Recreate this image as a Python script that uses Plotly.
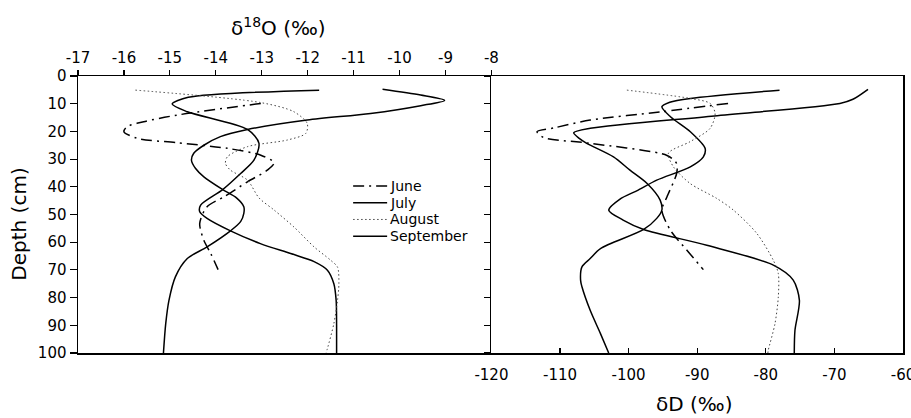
import plotly.graph_objects as go

# ---------------- data ----------------
series_names = ["June", "July", "August", "September"]

# delta 18O panel (left), depth in cm
june_o18_depth = [9.9, 14.1, 16.5, 18.3, 20.1, 22.5, 24.1, 26.1, 28.6, 31.3, 34, 38.2, 43.6, 47.2, 53.2, 59.3, 64.1, 69.9]
june_o18 = [-13.02, -14.84, -15.57, -15.93, -16.0, -15.71, -14.84, -13.75, -13.02, -12.73, -12.88, -13.31, -13.82, -14.19, -14.35, -14.26, -14.11, -13.95]

july_o18_depth = [5.1, 7.7, 10.1, 12.9, 19.3, 24.3, 30.4, 35.2, 41, 46.6, 49, 51.4, 55.9, 60.5, 64.1, 67, 70.1, 75, 81, 90, 100]
july_o18 = [-11.75, -14.6, -14.95, -14.62, -13.31, -13.06, -13.17, -13.46, -13.85, -14.33, -14.35, -14.19, -13.68, -13.03, -12.37, -11.86, -11.57, -11.43, -11.38, -11.37, -11.37]

august_o18_depth = [5.1, 9.6, 12.9, 17.1, 20.7, 23.1, 25.5, 29.2, 31.6, 34, 37.6, 44, 48.4, 54.5, 61.7, 66.5, 69, 75, 81, 89.4, 98.4, 100]
august_o18 = [-15.75, -13.02, -12.30, -12.01, -12.04, -12.44, -13.31, -13.75, -13.79, -13.68, -13.31, -13.06, -12.73, -12.30, -11.86, -11.50, -11.35, -11.32, -11.35, -11.43, -11.57, -11.6]

september_o18_depth = [4.8, 6.9, 8.8, 10.7, 13.5, 15.9, 19.3, 21.9, 25, 27.9, 30.4, 33.4, 36.4, 41, 44, 47.2, 49.6, 52.6, 55.9, 61.7, 65.9, 72.5, 81, 89.4, 100]
september_o18 = [-10.37, -9.54, -9.02, -9.54, -10.63, -12.01, -13.31, -13.9, -14.26, -14.48, -14.53, -14.44, -14.26, -13.85, -13.55, -13.39, -13.39, -13.46, -13.68, -14.19, -14.62, -14.88, -15.02, -15.09, -15.14]

# delta D panel (right)
june_dd_depth = [9.9, 13, 15.9, 18.7, 20.1, 22.2, 24.3, 28.7, 31.6, 35.2, 43.6, 48.4, 55.7, 62.9, 69.9]
june_dd = [-85.5, -95.5, -105.6, -110.8, -113.35, -112.4, -105.6, -94.4, -93.0, -93.0, -94.4, -95.15, -93.9, -91.5, -89.1]

july_dd_depth = [5.1, 8.1, 9.5, 11.1, 14.7, 20.1, 26.1, 29.2, 32.8, 37.6, 41.2, 44.5, 48.4, 52, 55.4, 61.1, 68.3, 73.7, 81, 91.8, 100]
july_dd = [-78.0, -91.0, -94.0, -95.15, -93.9, -91.0, -88.85, -89.1, -91.0, -95.9, -98.6, -101.3, -102.9, -100.8, -97.8, -88.6, -78.9, -76.0, -75.1, -75.75, -75.85]

august_dd_depth = [5.1, 8.1, 9.9, 13.5, 18.9, 23.7, 27.9, 32.8, 38.8, 44.2, 48.4, 56.8, 66.5, 71.3, 79.8, 89.4, 99, 100]
august_dd = [-100.25, -91.03, -88.12, -87.39, -88.12, -91.03, -94.19, -93.46, -91.03, -87.15, -84.73, -81.32, -78.91, -78.18, -78.18, -78.66, -79.64, -79.7]

september_dd_depth = [4.8, 8.4, 9.9, 14.4, 18.9, 20.5, 22.5, 24.3, 29.2, 34, 38.8, 44.8, 48.4, 51.4, 55.4, 62.3, 65.9, 68.9, 73.7, 76.1, 84.6, 93, 100]
september_dd = [-65.1, -67.3, -69.2, -87.5, -105.6, -108.0, -107.2, -106.1, -102.2, -99.8, -97.3, -95.4, -95.15, -95.9, -97.8, -104.1, -105.6, -106.8, -107.0, -106.8, -105.6, -104.1, -102.9]

o18_ticks = list(range(-17, -7))
dd_ticks = list(range(-120, -59, 10))
depth_ticks = list(range(0, 101, 10))

# ---------------- styles ----------------
FONT = "DejaVu Sans, Liberation Sans, Arial, sans-serif"
styles = {
    "June": dict(color="black", width=1.5, dash="11px,5px,2px,5px"),
    "July": dict(color="black", width=1.5, dash="solid"),
    "August": dict(color="#444444", width=1, dash="1.5px,2.5px"),
    "September": dict(color="black", width=1.5, dash="solid"),
}

left_data = {
    "June": (june_o18, june_o18_depth),
    "July": (july_o18, july_o18_depth),
    "August": (august_o18, august_o18_depth),
    "September": (september_o18, september_o18_depth),
}
right_data = {
    "June": (june_dd, june_dd_depth),
    "July": (july_dd, july_dd_depth),
    "August": (august_dd, august_dd_depth),
    "September": (september_dd, september_dd_depth),
}

fig = go.Figure()
for name in series_names:
    x, y = left_data[name]
    fig.add_trace(go.Scatter(x=x, y=y, xaxis="x", yaxis="y", mode="lines", name=name,
                             line=dict(shape="spline", smoothing=0.8, **styles[name]),
                             showlegend=False, hoverinfo="skip"))
for name in series_names:
    x, y = right_data[name]
    fig.add_trace(go.Scatter(x=x, y=y, xaxis="x2", yaxis="y2", mode="lines", name=name,
                             line=dict(shape="spline", smoothing=0.8, **styles[name]),
                             showlegend=False, hoverinfo="skip"))

# body margin is removed by post_script, so page pixels == figure pixels
W, H = 911, 418
plot_left, plot_right, plot_top, plot_bottom = 77.5, 902.7, 76, 352.7
ml = plot_left
mt = plot_top
mr = W - plot_right
mb = H - plot_bottom
pw = W - ml - mr
ph = H - mt - mb
split = (491 - plot_left) / pw

def px_x(px):
    return (px - plot_left) / pw

def px_y(py):
    return (plot_bottom - py) / ph

axis_common = dict(showgrid=False, zeroline=False, showline=True, linecolor="black", linewidth=1.5,
                   automargin=False, ticklabeloverflow="allow",
                   tickcolor="black", tickwidth=1.2, tickfont=dict(family=FONT, size=15, color="black"))

fig.update_layout(
    width=W, height=H,
    margin=dict(l=ml, r=mr, t=mt, b=mb, pad=0, autoexpand=False),
    paper_bgcolor="white", plot_bgcolor="white",
    showlegend=False, hovermode=False,
    xaxis=dict(domain=[0, split], range=[-17, -8], side="top", anchor="y",
               tickmode="array", tickvals=o18_ticks, ticktext=[str(t) for t in o18_ticks],
               ticks="outside", ticklen=5, mirror=True, ticklabelstandoff=1, **axis_common),
    yaxis=dict(domain=[0, 1], range=[100, 0], anchor="x",
               tickmode="array", tickvals=depth_ticks, ticktext=[str(t) for t in depth_ticks],
               ticks="outside", ticklen=7, **axis_common),
    xaxis2=dict(domain=[split, 1], range=[-120, -60], side="bottom", anchor="y2",
                tickmode="array", tickvals=dd_ticks, ticktext=[str(t) for t in dd_ticks],
                ticks="inside", ticklen=5, mirror=True, ticklabelstandoff=7, **axis_common),
    yaxis2=dict(domain=[0, 1], range=[100, 0], anchor="x2", matches="y",
                tickmode="array", tickvals=depth_ticks, showticklabels=False,
                ticks="outside", ticklen=6, mirror=True, **axis_common),
)

annotations = [
    dict(text="δ<sup>18</sup>O (‰)", x=px_x(278), y=px_y(27), xref="paper", yref="paper",
         showarrow=False, xanchor="center", yanchor="middle", font=dict(family=FONT, size=20, color="black")),
    dict(text="Depth (cm)", x=px_x(19), y=px_y(224), xref="paper", yref="paper", textangle=-90,
         showarrow=False, xanchor="center", yanchor="middle", font=dict(family=FONT, size=20, color="black")),
    dict(text="δD (‰)", x=px_x(694), y=px_y(404), xref="paper", yref="paper",
         showarrow=False, xanchor="center", yanchor="middle", font=dict(family=FONT, size=20, color="black")),
]

# legend drawn inside the left panel
legend_rows = [186, 202.7, 219.3, 236]
shapes = []
for name, ry in zip(series_names, legend_rows):
    st = styles[name]
    shapes.append(dict(type="line", xref="paper", yref="paper",
                       x0=px_x(352.7), x1=px_x(386.7), y0=px_y(ry), y1=px_y(ry),
                       line=dict(color=st["color"], width=st["width"], dash=st["dash"])))
    annotations.append(dict(text=name, x=px_x(387.5), y=px_y(ry), xref="paper", yref="paper",
                            showarrow=False, xanchor="left", yanchor="middle",
                            font=dict(family=FONT, size=14, color="black")))

fig.update_layout(annotations=annotations, shapes=shapes)
fig.write_html("out.html", config={"displayModeBar": False, "staticPlot": True},
               post_script="document.body.style.margin='0px';document.body.style.overflow='hidden';")
